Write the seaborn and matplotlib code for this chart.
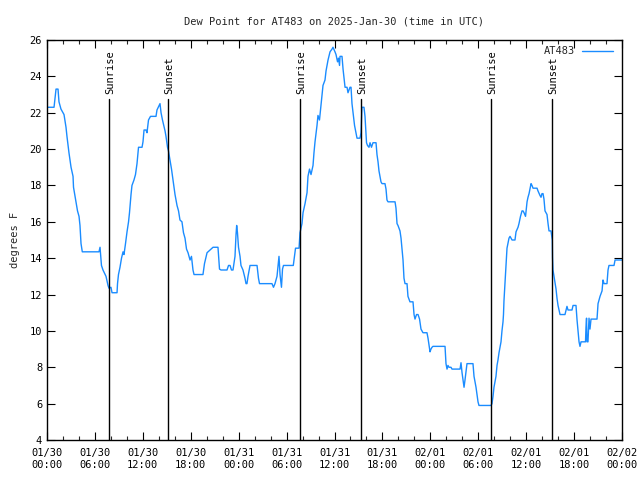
import matplotlib
matplotlib.use("Agg")
import matplotlib.pyplot as plt
from matplotlib.ticker import MultipleLocator
import seaborn as sns
import pandas as pd

# hours since 2025-01-30 00:00 UTC
hours = [0.13, 0.88, 1.13, 1.38, 1.50, 1.75, 1.88, 2.13, 2.38, 2.50, 2.75, 3.01, 3.26, 3.32, 3.51,
         3.69, 3.82, 4.01, 4.13, 4.26, 4.42, 6.51, 6.64, 6.82, 7.01, 7.39, 7.64, 7.76, 8.01, 8.14,
         8.77, 8.83, 8.95, 9.14, 9.33, 9.52, 9.64, 9.83, 10.02, 10.21, 10.33, 10.52, 10.64, 10.89,
         11.08, 11.27, 11.46, 11.90, 12.02, 12.15, 12.40, 12.52, 12.71, 12.96, 13.65, 13.77, 14.15,
         14.28, 14.46, 14.78, 14.90, 15.09, 15.21, 15.40, 15.59, 15.84, 16.03, 16.28, 16.47, 16.65,
         16.90, 17.09, 17.28, 17.47, 17.66, 17.91, 18.09, 18.28, 18.41, 19.53, 19.72, 20.04, 20.29,
         20.79, 21.41, 21.60, 21.79, 22.54, 22.73, 22.92, 23.10, 23.29, 23.54, 23.67, 23.75, 23.85,
         23.98, 24.17, 24.29, 24.54, 24.79, 24.92, 25.04, 25.17, 25.42, 26.30, 26.48, 26.61, 28.17,
         28.36, 28.55, 28.80, 29.05, 29.18, 29.36, 29.49, 29.61, 30.84, 30.99, 31.12, 31.56, 31.68,
         31.93, 32.06, 32.31, 32.56, 32.68, 32.87, 33.06, 33.31, 33.43, 33.56, 33.81, 33.93, 34.12,
         34.31, 34.44, 34.56, 34.81, 34.94, 35.19, 35.44, 35.69, 35.81, 36.06, 36.19, 36.38, 36.50,
         36.63, 36.69, 36.94, 37.07, 37.19, 37.32, 37.57, 37.69, 37.94, 38.07, 38.19, 38.38, 38.51,
         38.69, 38.82, 39.19, 39.32, 39.44, 39.69, 39.82, 40.01, 40.13, 40.32, 40.45, 40.63, 40.82,
         41.20, 41.32, 41.45, 41.57, 41.82, 41.95, 42.32, 42.45, 42.57, 42.70, 43.58, 43.70, 43.83,
         43.95, 44.20, 44.33, 44.45, 44.58, 44.70, 44.83, 45.08, 45.20, 45.45, 45.83, 45.96, 46.08,
         46.27, 46.46, 46.65, 46.83, 47.08, 47.58, 47.71, 47.96, 48.08, 48.21, 48.33, 49.84, 49.96,
         50.09, 50.21, 50.34, 50.59, 50.71, 51.72, 51.84, 51.97, 52.09, 52.22, 52.34, 52.59, 53.34,
         53.47, 53.72, 53.84, 53.97, 54.09, 55.60, 55.72, 55.85, 55.97, 56.22, 56.35, 56.47, 56.60,
         56.85, 56.97, 57.10, 57.16, 57.22, 57.35, 57.47, 57.60, 57.85, 57.98, 58.23, 58.60, 58.73,
         58.98, 59.10, 59.29, 59.48, 59.61, 59.73, 59.92, 60.11, 60.23, 60.36, 60.61, 60.73, 60.86,
         61.36, 61.48, 61.73, 61.86, 61.98, 62.11, 62.23, 62.36, 62.61, 62.74, 62.86, 63.11, 63.27,
         63.30, 63.36, 63.61, 63.74, 63.86, 63.99, 64.24, 64.86, 65.11, 65.24, 65.74, 65.87, 66.24,
         66.37, 66.49, 66.62, 66.74, 66.87, 67.43, 67.49, 67.56, 67.62, 67.74, 67.87, 67.99, 68.12,
         68.87, 69.00, 69.25, 69.50, 69.62, 69.75, 70.12, 70.25, 70.37, 71.00, 71.13, 72.00]

dewpoint = [22.3, 22.3, 23.3, 23.3, 22.6, 22.2, 22.1, 21.9, 21.2, 20.7, 19.8, 19.0, 18.5, 17.9, 17.4,
            16.9, 16.6, 16.3, 15.8, 14.8, 14.35, 14.35, 14.6, 13.6, 13.35, 13.0, 12.5, 12.35, 12.4, 12.1,
            12.1, 12.6, 13.1, 13.5, 14.0, 14.35, 14.2, 14.8, 15.45, 16.0, 16.5, 17.5, 18.0, 18.3,
            18.6, 19.2, 20.1, 20.1, 20.4, 21.05, 21.05, 20.9, 21.6, 21.8, 21.8, 22.15, 22.5,
            22.0, 21.6, 21.0, 20.7, 20.1, 19.9, 19.4, 18.9, 18.1, 17.5, 16.9, 16.6, 16.1,
            16.0, 15.4, 15.1, 14.5, 14.3, 13.9, 14.1, 13.35, 13.1, 13.1, 13.7, 14.3, 14.4,
            14.6, 14.6, 13.4, 13.35, 13.35, 13.6, 13.6, 13.35, 13.35, 14.1, 15.3, 15.8, 15.4,
            14.6, 14.1, 13.6, 13.35, 12.9, 12.6, 12.6, 13.0, 13.6, 13.6, 12.9, 12.6, 12.6,
            12.4, 12.6, 13.0, 14.1, 13.1, 12.4, 13.4, 13.6, 13.6, 14.1, 14.55, 14.55, 15.4,
            15.9, 16.5, 17.0, 17.6, 18.5, 18.9, 18.6, 19.1, 19.8, 20.4, 21.3, 21.85, 21.6,
            22.4, 23.0, 23.5, 23.8, 24.3, 24.9, 25.35, 25.5, 25.6, 25.35, 25.2, 24.8, 25.0,
            24.6, 25.1, 25.1, 24.4, 23.9, 23.4, 23.4, 23.1, 23.4, 23.4, 22.5, 21.8, 21.3,
            20.9, 20.6, 20.6, 20.9, 22.3, 22.3, 21.8, 20.35, 20.2, 20.1, 20.35, 20.1, 20.35,
            20.35, 19.7, 19.3, 18.8, 18.2, 18.1, 18.1, 17.8, 17.2, 17.1, 17.1, 16.75, 15.9,
            15.8, 15.5, 15.1, 14.55, 13.9, 12.9, 12.6, 12.6, 11.9, 11.6, 11.6, 10.9, 10.65,
            10.9, 10.9, 10.65, 10.1, 9.9, 9.9, 9.6, 8.85, 9.0, 9.1, 9.15, 9.15, 8.2,
            7.9, 8.1, 8.0, 8.0, 7.9, 7.9, 8.25, 7.7, 7.3, 6.9, 7.3, 8.2, 8.2,
            7.5, 6.9, 6.5, 6.1, 5.9, 5.9, 6.0, 6.4, 6.9, 7.5, 8.1, 8.4, 8.8,
            9.4, 10.0, 10.5, 10.9, 11.65, 12.65, 13.6, 14.55, 15.1, 15.2, 15.0, 15.0, 15.45,
            15.7, 15.9, 16.3, 16.6, 16.6, 16.5, 16.3, 17.1, 17.35, 17.55, 18.1, 18.0, 17.85,
            17.85, 17.7, 17.45, 17.35, 17.55, 17.55, 17.25, 16.6, 16.4, 15.9, 15.5, 15.5, 15.0,
            14.05, 13.35, 12.65, 12.3, 11.8, 11.4, 10.9, 10.9, 11.35, 11.15, 11.15, 11.4, 11.4,
            10.6, 10.05, 9.4, 9.15, 9.4, 9.4, 10.2, 10.7, 9.4, 9.4, 10.7, 10.1, 10.65,
            10.65, 11.5, 11.9, 12.2, 12.8, 12.6, 12.6, 13.35, 13.6, 13.6, 13.9, 13.9]

sun_events = ["Sunrise", "Sunset", "Sunrise", "Sunset", "Sunrise", "Sunset"]
sun_hours = [7.76, 15.15, 31.68, 39.32, 55.60, 63.24]

tick_hours = [0, 6, 12, 18, 24, 30, 36, 42, 48, 54, 60, 66, 72]
tick_labels = ["01/30\n00:00", "01/30\n06:00", "01/30\n12:00", "01/30\n18:00",
               "01/31\n00:00", "01/31\n06:00", "01/31\n12:00", "01/31\n18:00",
               "02/01\n00:00", "02/01\n06:00", "02/01\n12:00", "02/01\n18:00",
               "02/02\n00:00"]

sns.set_style("white")
plt.rcParams['font.family'] = ['DejaVu Sans Mono', 'DejaVu Sans']

df = pd.DataFrame({"hours": hours, "dewpoint": dewpoint})

fig = plt.figure(figsize=(6.4, 4.8), dpi=100)
ax = fig.add_axes([47/640, 1 - 440/480, 575/640, 400/480])

line_color = "#1a8cff"
sns.lineplot(data=df, x="hours", y="dewpoint", ax=ax, color=line_color,
             linewidth=1.0, label="AT483", sort=False)

for name, h in zip(sun_events, sun_hours):
    ax.plot([h, h], [4, 22.75], color="black", linewidth=1.0)
    ax.text(h + 0.1, 23.05, name, rotation=90, ha="center", va="bottom",
            fontsize=7.5, color="black")

ax.set_xlim(0, 72)
ax.set_ylim(4, 26)
ax.set_xticks(tick_hours)
ax.set_xticklabels(tick_labels, fontsize=7.5)
ax.xaxis.set_minor_locator(MultipleLocator(2))
ax.yaxis.set_major_locator(MultipleLocator(2))
ax.tick_params(axis="y", labelsize=7.5)
ax.tick_params(which="major", direction="in", length=6, width=0.8,
               top=True, right=True, bottom=True, left=True, colors="black")
ax.tick_params(which="minor", direction="in", length=3, width=0.8,
               top=True, bottom=True)
ax.tick_params(axis="x", pad=6)
for s in ax.spines.values():
    s.set_color("black")
    s.set_linewidth(1.0)

ax.set_xlabel("")
ax.set_ylabel("degrees F", fontsize=7.5, labelpad=7)
ax.set_title("Dew Point for AT483 on 2025-Jan-30 (time in UTC)", fontsize=7.5, pad=11)

leg = ax.legend(loc="upper right", frameon=False, fontsize=7.5, handlelength=3.0,
                markerfirst=False, borderaxespad=0.2, handletextpad=0.6,
                bbox_to_anchor=(0.995, 1.0))

fig.savefig("out.png", dpi=100)
